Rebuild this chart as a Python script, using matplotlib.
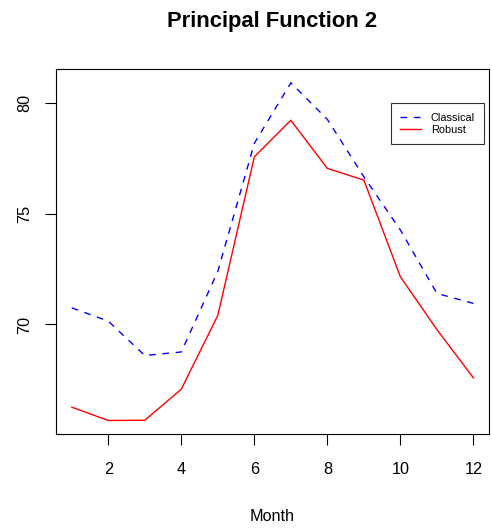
import matplotlib
matplotlib.use("Agg")
import matplotlib.pyplot as plt

plt.rcParams['font.family'] = ['Liberation Sans', 'DejaVu Sans']

months = list(range(1, 13))
classical = [70.75, 70.15, 68.60, 68.76, 72.40, 78.17, 80.90, 79.25, 76.66, 74.26, 71.40, 70.95]
robust = [66.27, 65.67, 65.68, 67.08, 70.41, 77.56, 79.21, 77.04, 76.51, 72.15, 69.77, 67.59]
xticks = [2, 4, 6, 8, 10, 12]
yticks = [70, 75, 80]

fig = plt.figure(figsize=(4.92, 5.31), dpi=100)
ax = fig.add_axes([0.1132, 0.1827, 0.8817, 0.6868])

ax.plot(months, classical, color='blue', linestyle=(0, (4.8, 4.8)), linewidth=1, label='Classical')
ax.plot(months, robust, color='red', linestyle='-', linewidth=1, label='Robust')

# R style 4% padding
lo = min(min(classical), min(robust))
hi = max(max(classical), max(robust))
r = hi - lo
ax.set_xlim(1 - 0.04 * 11, 12 + 0.04 * 11)
ax.set_ylim(lo - 0.04 * r, hi + 0.04 * r)

ax.set_xticks(xticks)
ax.set_yticks(yticks)
ax.set_yticklabels([str(v) for v in yticks], rotation=90, va='center')
ax.tick_params(axis='both', length=8, width=0.8, labelsize=11.7, direction='out')
ax.tick_params(axis='x', pad=12)
ax.tick_params(axis='y', pad=9)
for s in ax.spines.values():
    s.set_linewidth(0.8)

ax.set_xlabel('Month', fontsize=11.7, labelpad=23)
fig.text(0.553, 1 - 22 / 531, 'Principal Function 2', ha='center', va='center',
         fontsize=15.8, fontweight='bold')

leg = ax.legend(loc='upper right', bbox_to_anchor=(0.988, 0.907), fontsize=7.9,
                frameon=True, fancybox=False, edgecolor='black', handlelength=1.9,
                handletextpad=0.9, borderpad=0.85, labelspacing=0.18, borderaxespad=0)
leg.get_frame().set_linewidth(0.8)

fig.savefig('out.png', dpi=100)
